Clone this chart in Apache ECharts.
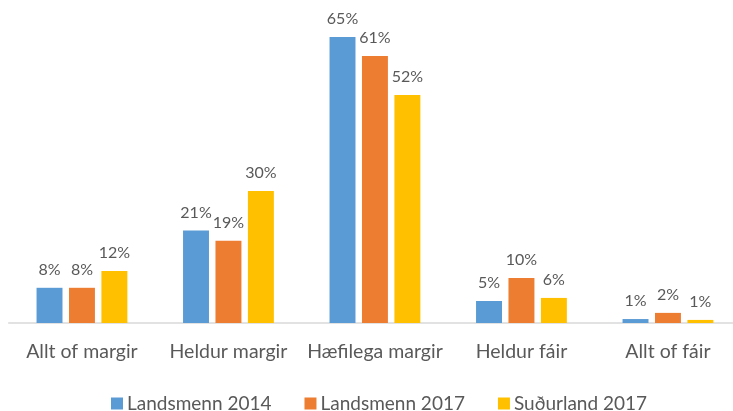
<!DOCTYPE html>
<html><head><meta charset="utf-8">
<script src="https://cdn.jsdelivr.net/npm/echarts@6/dist/echarts.min.js"></script>
<style>html,body{margin:0;padding:0;background:#fff}#c{width:733px;height:411px}</style>
</head><body><div id="c"></div>
<script>
const categories = ['Allt of margir', 'Heldur margir', 'Hæfilega margir', 'Heldur fáir', 'Allt of fáir'];
const seriesNames = ['Landsmenn 2014', 'Landsmenn 2017', 'Suðurland 2017'];
const landsmenn2014 = [8, 21, 65, 5, 0.9];
const landsmenn2017 = [8, 18.7, 60.7, 10.2, 2.3];
const sudurland2017 = [11.8, 30, 51.8, 5.7, 0.7];
const colors = ['#5B9BD5', '#ED7D31', '#FFC000'];
const font = 'Lato';
const chart = echarts.init(document.getElementById('c'));
const data = [landsmenn2014, landsmenn2017, sudurland2017];
chart.setOption({
  animation: false,
  textStyle: { fontFamily: font },
  grid: { left: 8.7, width: 732.5, top: 15, height: 308, outerBoundsMode: 'none', containLabel: false },
  legend: {
    top: 389, left: 106, itemWidth: 12, itemHeight: 12, itemGap: 33,
    icon: 'rect',
    textStyle: { fontFamily: font, fontSize: 19, color: '#595959', padding: [0, 0, 0, -1] },
    data: seriesNames
  },
  xAxis: {
    type: 'category', data: categories,
    axisLine: { lineStyle: { color: '#D9D9D9', width: 1.5 } },
    axisTick: { show: false },
    axisLabel: { color: '#595959', fontSize: 19.5, fontFamily: font, margin: 19, interval: 0 }
  },
  yAxis: { type: 'value', min: 0, max: 70, show: false, splitLine: { show: false } },
  series: data.map((d, i) => ({
    name: seriesNames[i], type: 'bar', data: d,
    barGap: '25%', barCategoryGap: '38%',
    itemStyle: { color: colors[i] },
    label: {
      show: true, position: 'top', distance: 10, color: '#595959', fontSize: 16, fontFamily: font,
      formatter: p => Math.round(p.value) + '%'
    }
  }))
});
</script></body></html>
